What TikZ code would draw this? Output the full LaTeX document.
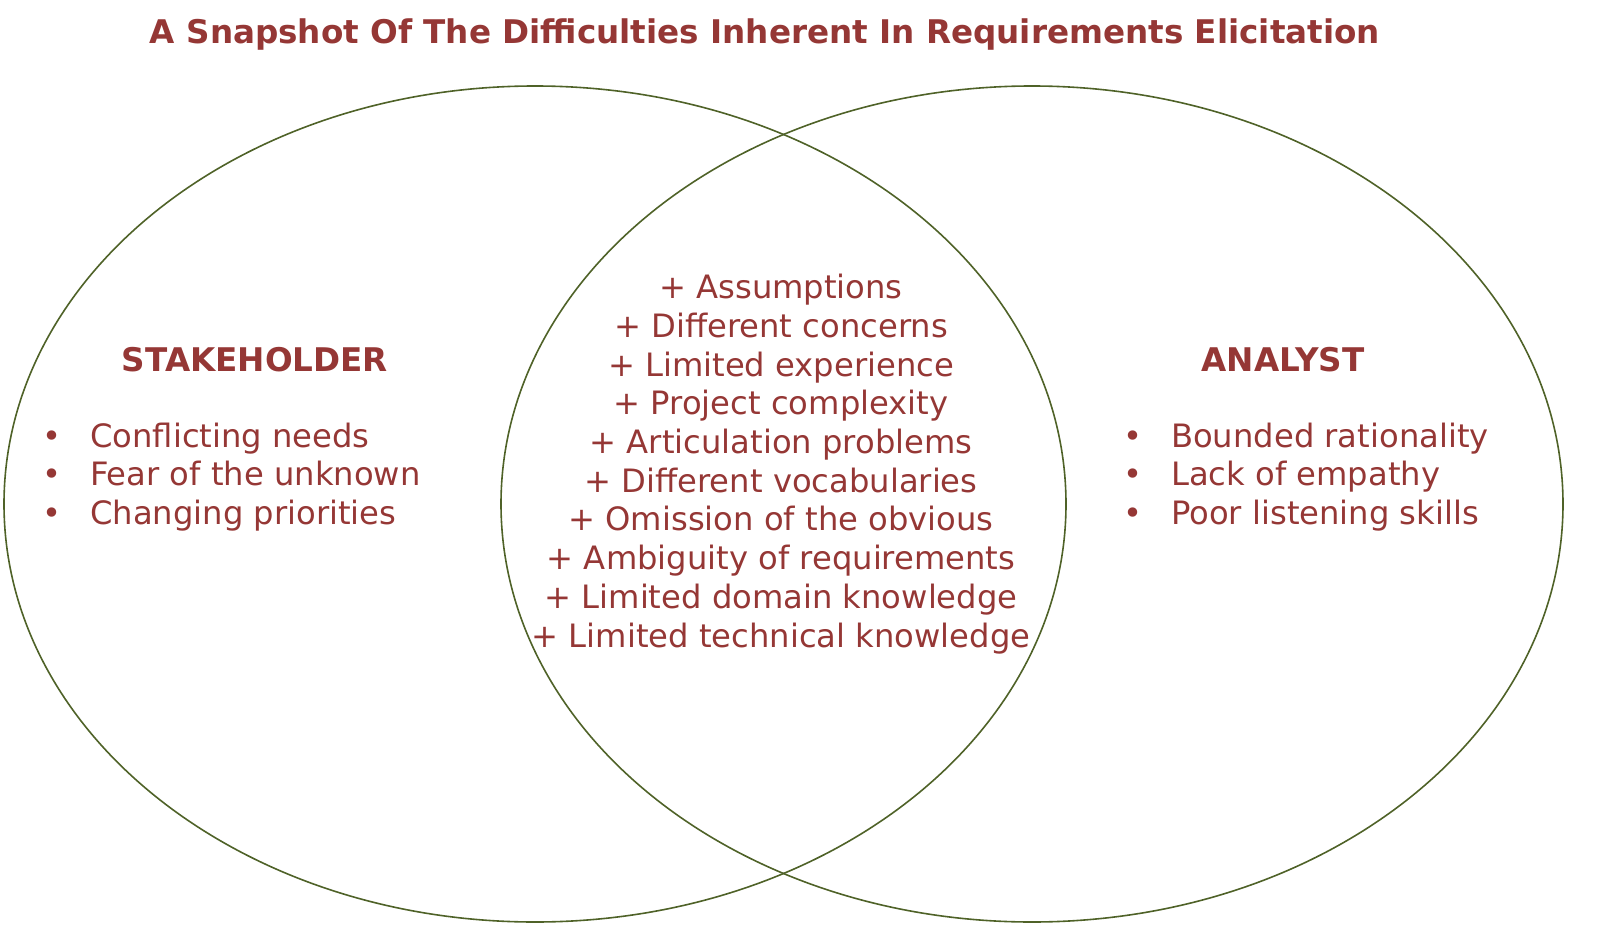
\documentclass[tikz,border=0pt]{standalone}
\usepackage{fontspec}
\setmainfont{DejaVu Sans}
\definecolor{tred}{HTML}{953735}
\definecolor{lgreen}{HTML}{4F6228}
\newcommand{\bulitem}{\makebox[48pt][l]{•}}
\begin{document}
\begin{tikzpicture}[x=1pt,y=-1pt,
  ring/.style={draw=lgreen,line width=1.6pt},
  txt/.style={text=tred,inner sep=0pt,font=\fontsize{32.2}{38.7}\selectfont},
  head/.style={text=tred,inner sep=0pt,font=\fontsize{32.6}{36}\selectfont\bfseries},
  bl/.style={txt,align=left,anchor=west}]
\useasboundingbox (0,0) rectangle (1604,950);
\draw[ring] (535,504) ellipse [x radius=531pt,y radius=418pt];
\draw[ring] (1032,504) ellipse [x radius=531pt,y radius=418pt];
\node[head] (title) at (765,35) {A Snapshot Of The Difficulties Inherent In Requirements Elicitation};
\node[head] (sh) at (255,360) {STAKEHOLDER};
\node[head] (an) at (1283,360) {ANALYST};
\node[bl] (ls) at (42,477) {\bulitem Conflicting needs\\ \bulitem Fear of the unknown\\ \bulitem Changing priorities};
\node[bl] (rs) at (1123,477) {\bulitem Bounded rationality\\ \bulitem Lack of empathy\\ \bulitem Poor listening skills};
\node[txt,align=center] (mid) at (781,464) {+ Assumptions\\ + Different concerns\\ + Limited experience\\ + Project complexity\\ + Articulation problems\\ + Different vocabularies\\ + Omission of the obvious\\ + Ambiguity of requirements\\ + Limited domain knowledge\\ + Limited technical knowledge};
\end{tikzpicture}
\end{document}
